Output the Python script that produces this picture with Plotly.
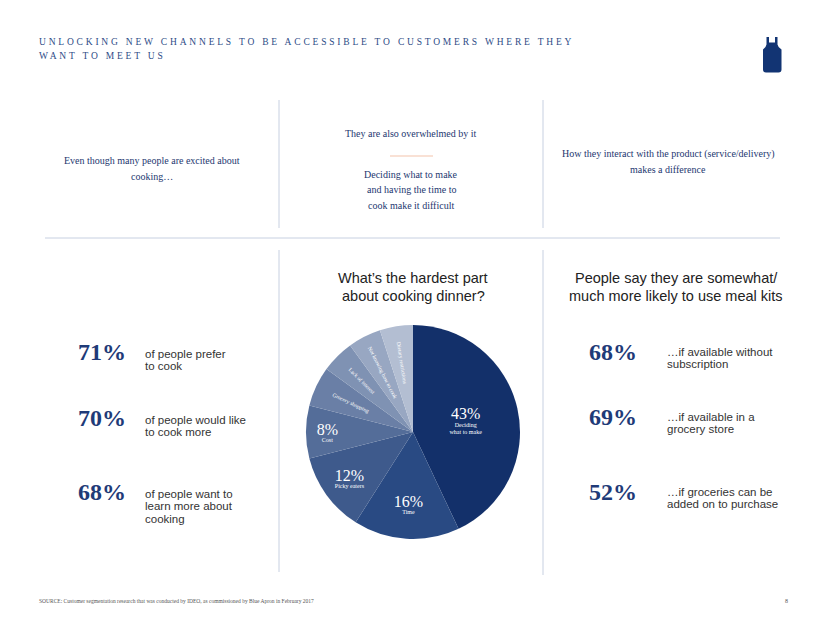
import plotly.graph_objects as go

W, H = 824, 637

# ---------------- data ----------------
pie_labels = ["Deciding what to make", "Time", "Picky eaters", "Cost",
              "Grocery shopping", "Lack of interest", "Not knowing how to cook",
              "Dietary restrictions"]
pie_values = [43, 16, 12, 8, 6, 5, 5, 5]
pie_colors = ["#13306a", "#294a83", "#3e5a8c", "#546d99", "#6a7fa6",
              "#7f92b3", "#98a7c2", "#b3bed2"]
pie_big_text = ["Deciding<br>what to make", "Time", "Picky eaters", "Cost"]

left_pcts = ["71%", "70%", "68%"]
left_desc = [["of people prefer", "to cook"],
             ["of people would like", "to cook more"],
             ["of people want to", "learn more about", "cooking"]]
right_pcts = ["68%", "69%", "52%"]
right_desc = [["\u2026if available without", "subscription"],
              ["\u2026if available in a", "grocery store"],
              ["\u2026if groceries can be", "added on to purchase"]]

heading = ["UNLOCKING NEW CHANNELS TO BE ACCESSIBLE TO CUSTOMERS WHERE THEY",
           "WANT TO MEET US"]
col1_text = ["Even though many people are excited about", "cooking\u2026"]
col2_head = "They are also overwhelmed by it"
col2_text = ["Deciding what to make", "and having the time to", "cook make it difficult"]
col3_text = ["How they interact with the product (service/delivery)", "makes a difference"]
pie_title = ["What\u2019s the hardest part", "about cooking dinner?"]
right_title = ["People say they are somewhat/", "much more likely to use meal kits"]
source = ("SOURCE: Customer segmentation research that was conducted by IDEO, "
          "as commissioned by Blue Apron in February 2017")
page_no = "8"

# ---------------- helpers ----------------
NAVY = "#1d3770"
SERIF = "Liberation Serif"
SANS = "Liberation Sans"


def px(x):
    return x / W


def py(y):
    return 1 - y / H


annotations = []


def txt(x, y, text, size, color=NAVY, family=SERIF, anchor="center", bold=False):
    if bold:
        text = "<b>" + text + "</b>"
    annotations.append(dict(
        x=px(x), y=py(y), xref="paper", yref="paper", text=text,
        showarrow=False, xanchor=anchor, yanchor="middle",
        font=dict(size=size, color=color, family=family),
    ))


fig = go.Figure()

# pie: colored slices + horizontal labels on big slices
big_text = []
for i, v in enumerate(pie_values):
    if i < len(pie_big_text):
        big_text.append("<span style='font-size:16px'>%d%%</span><br>%s" % (v, pie_big_text[i]))
    else:
        big_text.append("")
small_text = ["" if i < len(pie_big_text) else lab for i, lab in enumerate(pie_labels)]

dom = dict(x=[px(306), px(520)], y=[py(539), py(325)])
fig.add_trace(go.Pie(
    labels=pie_labels, values=pie_values, sort=False, direction="clockwise",
    rotation=0, marker=dict(colors=pie_colors, line=dict(width=0)),
    text=big_text, textinfo="text", textposition="inside",
    insidetextorientation="horizontal",
    textfont=dict(family=SERIF, color="white", size=6),
    domain=dom, showlegend=False, hoverinfo="skip",
))
fig.add_trace(go.Pie(
    labels=pie_labels, values=pie_values, sort=False, direction="clockwise",
    rotation=0, marker=dict(colors=["rgba(0,0,0,0)"] * len(pie_values), line=dict(width=0)),
    text=small_text, textinfo="text", textposition="inside",
    insidetextorientation="radial",
    textfont=dict(family=SERIF, color="white", size=5.5),
    domain=dom, showlegend=False, hoverinfo="skip",
))

# heading
ls = "<span style='letter-spacing:2.8px'>%s</span>"
txt(37, 42, ls % heading[0], 9.5, color="#2d4b86", anchor="left")
txt(37, 56, ls % heading[1], 9.5, color="#2d4b86", anchor="left")

# top column texts
for i, t in enumerate(col1_text):
    txt(152, 160 + 16 * i, t, 10)
txt(411, 133, col2_head, 10)
for i, t in enumerate(col2_text):
    txt(411, 174 + 15.5 * i, t, 10)
for i, t in enumerate(col3_text):
    txt(668, 154 + 15 * i, t, 10)

# section titles
for i, t in enumerate(pie_title):
    txt(413, 278 + 18 * i, t, 14.5, color="#222222", family=SANS)
for i, t in enumerate(right_title):
    txt(676, 278 + 18 * i, t, 14.5, color="#222222", family=SANS)

# left stats
left_y = [352, 418, 492]
for k, (p, d) in enumerate(zip(left_pcts, left_desc)):
    txt(76, left_y[k], p, 24, color="#1f3b78", anchor="left", bold=True)
    for j, line in enumerate(d):
        txt(143, left_y[k] + 2 + 12.3 * j, line, 11.5, color="#333333", family=SANS, anchor="left")

# right stats
right_y = [352, 417, 492]
for k, (p, d) in enumerate(zip(right_pcts, right_desc)):
    txt(587, right_y[k], p, 24, color="#1f3b78", anchor="left", bold=True)
    for j, line in enumerate(d):
        txt(665, right_y[k] + 12.3 * j, line, 11.5, color="#333333", family=SANS, anchor="left")

# footer
txt(37, 601, source, 5.5, color="#555555", anchor="left")
txt(786, 601, page_no, 6, color="#555555")

# separator lines
LINE = "#c7d0e1"
shapes = []


def seg(x0, y0, x1, y1, color=LINE, width=1):
    shapes.append(dict(type="line", xref="paper", yref="paper",
                       x0=px(x0), y0=py(y0), x1=px(x1), y1=py(y1),
                       line=dict(color=color, width=width)))


seg(279, 100, 279, 228)
seg(543, 100, 543, 228)
seg(45, 238, 780, 238)
seg(279, 250, 279, 572)
seg(543, 250, 543, 575)
seg(390, 156, 433, 156, color="#f4c3ab", width=1.2)

# apron logo
apron_pts = "M {a},{b} L {c},{b} L {c},{d} L {e},{d} L {e},{b} L {f},{b} L {f},{g} " \
            "Q {h},{i} {j},{k} L {j},{l} Q {j},{m} {n},{m} L {o},{m} Q {p},{m} {p},{l} " \
            "L {p},{k} Q {q},{i} {a},{g} Z"
pts = dict(a=px(766.5), b=py(37), c=px(769), d=py(42.5), e=px(775), f=px(777.5),
           g=py(44.5), h=px(778), i=py(47.5), j=px(781.5), k=py(49.5), l=py(69.5),
           m=py(72.5), n=px(778.5), o=px(766), p=px(763), q=px(766))
shapes.append(dict(type="path", xref="paper", yref="paper",
                   path=apron_pts.format(**pts), fillcolor="#123473",
                   line=dict(width=0)))

fig.update_layout(
    width=W, height=H, margin=dict(l=0, r=0, t=0, b=0),
    paper_bgcolor="white", plot_bgcolor="white",
    annotations=annotations, shapes=shapes, showlegend=False,
)

fig.write_html("out.html", config={"displayModeBar": False},
               post_script="document.body.style.margin='0';"
                           "document.body.style.overflow='hidden';")
